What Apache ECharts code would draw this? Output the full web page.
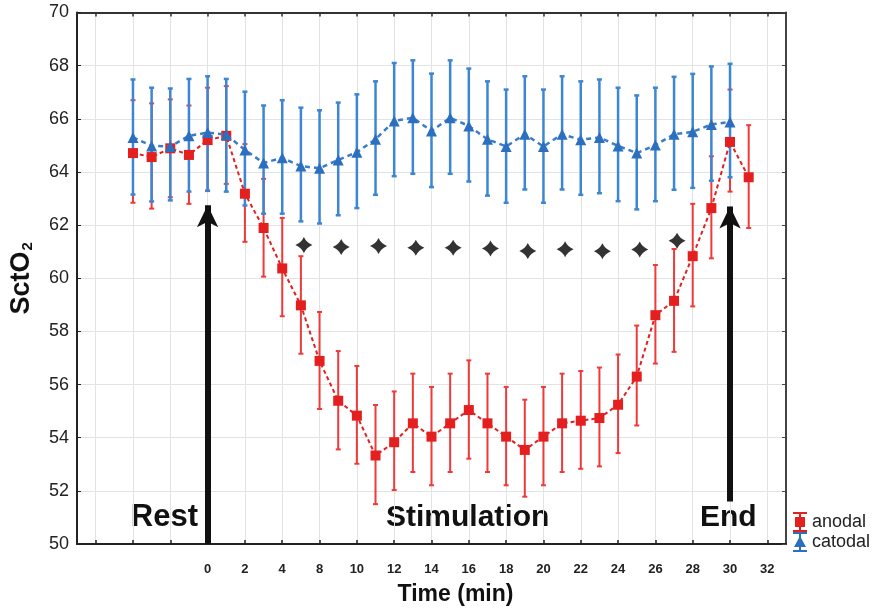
<!DOCTYPE html>
<html><head><meta charset="utf-8">
<script src="https://cdn.jsdelivr.net/npm/echarts@6/dist/echarts.min.js"></script>
<style>html,body{margin:0;padding:0;background:#fff}#c{width:876px;height:611px}</style>
</head><body><div id="c"></div>
<script>
// x positions are half-grid "slots" (0..38); gridlines/ticks sit on odd slots 1..37
const slotCount = 39;
const gridTickLabels = ['', '', '', '0', '2', '4', '8', '10', '12', '14', '16', '18', '20', '22', '24', '26', '28', '30', '32'];

// anodal: slots 3..36
const anodalStart = 3;
const anodalMean = [64.71, 64.56, 64.89, 64.64, 65.20, 65.36, 63.18, 61.89, 60.37, 58.98, 56.89, 55.39, 54.83, 53.33, 53.83, 54.54, 54.04, 54.54, 55.04, 54.54, 54.04, 53.54, 54.04, 54.54, 54.64, 54.74, 55.24, 56.30, 58.61, 59.15, 60.83, 62.64, 65.13, 63.80];
const anodalLow  = [62.84, 62.62, 63.05, 62.80, 63.28, 63.55, 61.37, 60.06, 58.57, 57.16, 55.08, 53.56, 53.02, 51.50, 52.03, 52.71, 52.21, 52.71, 53.21, 52.71, 52.21, 51.78, 52.21, 52.71, 52.83, 52.92, 53.42, 54.46, 56.79, 57.23, 58.94, 60.75, 63.26, 61.89];
const anodalHigh = [66.70, 66.58, 66.73, 66.50, 67.17, 67.23, 65.05, 63.74, 62.27, 60.83, 58.73, 57.26, 56.70, 55.23, 55.74, 56.41, 55.91, 56.41, 56.91, 56.41, 55.91, 55.43, 55.91, 56.41, 56.51, 56.64, 57.13, 58.22, 60.50, 61.10, 62.80, 64.59, 67.10, 65.76];

// catodal: slots 3..35
const catodalStart = 3;
const catodalMean = [65.30, 64.98, 64.96, 65.36, 65.48, 65.40, 64.83, 64.34, 64.53, 64.22, 64.14, 64.45, 64.74, 65.23, 65.92, 66.04, 65.54, 66.04, 65.73, 65.23, 64.96, 65.42, 64.96, 65.42, 65.21, 65.30, 64.98, 64.71, 65.01, 65.42, 65.51, 65.79, 65.88];
const catodalLow  = [63.15, 62.89, 62.93, 63.26, 63.30, 63.26, 62.74, 62.43, 62.43, 62.14, 62.06, 62.37, 62.64, 63.14, 63.84, 63.93, 63.43, 63.93, 63.64, 63.11, 62.84, 63.34, 62.84, 63.34, 63.14, 63.20, 62.90, 62.59, 62.90, 63.33, 63.40, 63.67, 63.80];
const catodalHigh = [67.48, 67.17, 67.14, 67.50, 67.60, 67.50, 67.02, 66.50, 66.70, 66.42, 66.32, 66.61, 66.92, 67.41, 68.10, 68.20, 67.70, 68.20, 67.89, 67.41, 67.10, 67.60, 67.10, 67.60, 67.41, 67.48, 67.17, 66.88, 67.17, 67.58, 67.69, 67.97, 68.07];

// significance markers
const sigSlots  = [12, 14, 16, 18, 20, 22, 24, 26, 28, 30, 32];
const sigValues = [61.25, 61.18, 61.21, 61.15, 61.15, 61.12, 61.03, 61.09, 61.02, 61.08, 61.41];

// annotation arrows (slot, from, to)
const arrowSlots = [7, 35];
const arrowFrom = [50, 51.6];
const arrowTo = [62.75, 62.7];

const yMin = 50, yMax = 70, yStep = 2;

const slots = Array.from({length: slotCount}, (_, i) => String(i));
const odd = (i) => i % 2 === 1;

const RED = '#e41f1f', RED_BAR = '#ef3a3a', BLUE = '#2d6fbf', BLUE_BAR = '#3d86d2';

function pairs(start, arr) { return arr.map((v, i) => [start + i, v]); }
function bars(start, lo, hi) { return lo.map((v, i) => [start + i, v, hi[i]]); }

function errRender(color, capW, lw) {
  return function (params, api) {
    const x = api.value(0), lo = api.value(1), hi = api.value(2);
    const p1 = api.coord([x, lo]), p2 = api.coord([x, hi]);
    const st = {stroke: color, lineWidth: lw};
    return {type: 'group', children: [
      {type: 'line', shape: {x1: p1[0], y1: p1[1], x2: p2[0], y2: p2[1]}, style: st},
      {type: 'line', shape: {x1: p1[0] - capW, y1: p1[1], x2: p1[0] + capW, y2: p1[1]}, style: st},
      {type: 'line', shape: {x1: p2[0] - capW, y1: p2[1], x2: p2[0] + capW, y2: p2[1]}, style: st}
    ]};
  };
}

const FONT = "'Liberation Sans', Arial, sans-serif";
const starPath = 'path://M0,-10 Q3,-3 10,0 Q3,3 0,10 Q-3,3 -10,0 Q-3,-3 0,-10Z';
const redIcon = 'path://M1,0H15V2H1Z M7,2H9V18H7Z M1,18H15V20H1Z M3,5H13V15H3Z';
const blueIcon = 'path://M1,0H15V2H1Z M7,2H9V18H7Z M1,18H15V20H1Z M8,4L14,15H2Z';

const chart = echarts.init(document.getElementById('c'), null, {renderer: 'canvas'});
chart.setOption({
  backgroundColor: '#fff',
  animation: false,
  textStyle: {fontFamily: FONT},
  grid: {left: 76, top: 12.5, width: 710, height: 535, containLabel: false},
  xAxis: [{
    type: 'category', data: slots, boundaryGap: false, position: 'bottom',
    axisLine: {lineStyle: {color: '#222', width: 2}},
    axisTick: {inside: true, length: 4, interval: (i) => odd(i), lineStyle: {color: '#222', width: 1.5}},
    axisLabel: {interval: (i) => odd(i), formatter: (v, i) => gridTickLabels[(i - 1) / 2] || '',
      fontSize: 13, fontWeight: 'bold', color: '#222', margin: 19},
    splitLine: {show: true, interval: (i) => odd(i), lineStyle: {color: '#e3e3e3', width: 1}},
    name: 'Time (min)', nameLocation: 'middle', nameGap: 39,
    nameTextStyle: {fontSize: 23, fontWeight: 'bold', color: '#111', padding: [0, 0, 0, 48]}
  }, {
    type: 'category', data: slots, boundaryGap: false, position: 'top',
    axisLine: {lineStyle: {color: '#333', width: 2}},
    axisTick: {inside: true, length: 4, interval: (i) => odd(i), lineStyle: {color: '#333', width: 1.5}},
    axisLabel: {show: false}, splitLine: {show: false}
  }],
  yAxis: [{
    type: 'value', min: yMin, max: yMax, interval: yStep, position: 'left',
    axisLine: {show: true, lineStyle: {color: '#222', width: 2}},
    axisTick: {show: true, inside: true, length: 4, lineStyle: {color: '#222'}},
    axisLabel: {fontSize: 18, color: '#222', margin: 8},
    splitLine: {show: true, lineStyle: {color: '#e3e3e3', width: 1}},
    name: '{a|SctO}{b|2}', nameLocation: 'middle', nameGap: 42, nameRotate: 90,
    nameTextStyle: {rich: {
      a: {fontSize: 27, fontWeight: 'bold', color: '#111', fontFamily: FONT},
      b: {fontSize: 15, fontWeight: 'bold', color: '#111', fontFamily: FONT, padding: [12, 0, 0, 1]}
    }}
  }, {
    type: 'value', min: yMin, max: yMax, interval: yStep, position: 'right',
    axisLine: {show: true, lineStyle: {color: '#444', width: 2}},
    axisTick: {show: true, inside: true, length: 4, lineStyle: {color: '#444'}},
    axisLabel: {show: false}, splitLine: {show: false}
  }],
  legend: {
    orient: 'vertical', left: 793, top: 512, padding: 0, itemGap: 0,
    itemWidth: 16, itemHeight: 20,
    textStyle: {fontSize: 18, color: '#222', padding: [0, 0, 0, -1]},
    data: [{name: 'anodal', icon: redIcon}, {name: 'catodal', icon: blueIcon}]
  },
  graphic: [
    {type: 'text', right: 876 - 198, top: 502, style: {text: 'Rest', font: 'bold 31px ' + FONT, fill: '#111'}},
    {type: 'text', left: 386, top: 503, style: {text: 'Stimulation', font: 'bold 30px ' + FONT, fill: '#111'}},
    {type: 'text', left: 700, top: 503, style: {text: 'End', font: 'bold 30px ' + FONT, fill: '#111'}}
  ],
  series: [
    {name: 'anodal-err', type: 'custom', renderItem: errRender(RED_BAR, 2.5, 2), data: bars(anodalStart, anodalLow, anodalHigh),
      encode: {x: 0, y: [1, 2]}, z: 2, silent: true},
    {name: 'catodal-err', type: 'custom', renderItem: errRender(BLUE_BAR, 2.5, 2.5), data: bars(catodalStart, catodalLow, catodalHigh),
      encode: {x: 0, y: [1, 2]}, z: 3, silent: true, itemStyle: {opacity: 0.9}},
    {name: 'anodal', type: 'line', data: pairs(anodalStart, anodalMean), z: 4,
      symbol: 'rect', symbolSize: 10, itemStyle: {color: RED},
      lineStyle: {color: RED, width: 2, type: [4, 3]}},
    {name: 'catodal', type: 'line', data: pairs(catodalStart, catodalMean), z: 5,
      symbol: 'triangle', symbolSize: 11, itemStyle: {color: BLUE},
      lineStyle: {color: '#3a7cc8', width: 2.5, type: [5, 4]}},
    {name: 'sig', type: 'scatter', data: sigSlots.map((s, i) => [s, sigValues[i]]), z: 6,
      symbol: starPath, symbolSize: [17, 16], symbolOffset: [3, 0], itemStyle: {color: '#000'},
      markLine: {silent: true, symbol: ['none', 'arrow'], symbolSize: [16, 22],
        lineStyle: {color: '#111', width: 6, type: 'solid'}, label: {show: false},
        data: arrowSlots.map((s, i) => [{coord: [s, arrowFrom[i]]}, {coord: [s, arrowTo[i]]}])}
    }
  ]
});
</script></body></html>
